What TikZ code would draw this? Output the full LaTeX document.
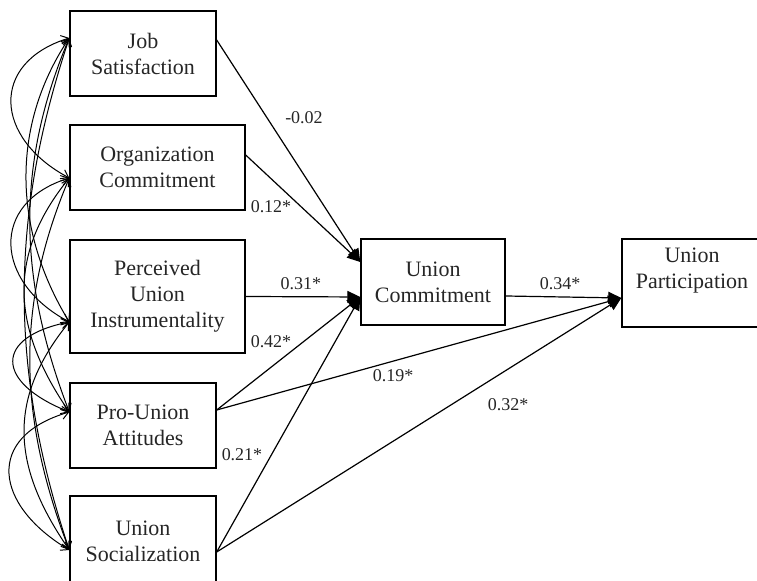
\documentclass[tikz,border=0pt]{standalone}
\usepackage{fontspec}
\setmainfont{Liberation Serif}
\usetikzlibrary{arrows.meta}
\begin{document}
\begin{tikzpicture}[x=0.5pt,y=-0.5pt,
  box/.style={draw, line width=0.7pt, inner sep=0pt, align=center,
    text=black!85, font=\fontsize{11}{13}\selectfont},
  lbl/.style={inner sep=0pt, text=black!85, font=\fontsize{9}{11}\selectfont},
  effarrow/.style={line width=0.6pt, -{Triangle[length=6.5pt,width=6pt]}},
  corr/.style={line width=0.5pt, >={Straight Barb[length=3.5pt,width=5pt]}, <->}]
\clip (0,0) rectangle (757,581);
\fill[white] (0,0) rectangle (757,581);
% boxes
\node[box, minimum width=73pt, minimum height=42.5pt] (JS) at (143,53.5) {Job\\Satisfaction};
\node[box, minimum width=87.5pt, minimum height=42.5pt] (OC) at (157.5,167.5) {Organization\\Commitment};
\node[box, minimum width=87.5pt, minimum height=56.5pt] (PUI) at (157.5,296.5) {Perceived\\Union\\Instrumentality};
\node[box, minimum width=73pt, minimum height=42.5pt] (PUA) at (143,425.5) {Pro-Union\\Attitudes};
\node[box, minimum width=73pt, minimum height=45pt] (US) at (143,541) {Union\\Socialization};
\node[box, minimum width=72pt, minimum height=43pt] (UC) at (433,282) {Union\\Commitment};
\node[box, minimum width=70pt, minimum height=44pt] (UP) at (692,283) {Union\\Participation\\[1.5pt]};
% anchor points
\coordinate (jsR) at ([yshift=6.75pt]JS.east);
\coordinate (ocR) at ([yshift=6.25pt]OC.east);
\coordinate (puaR) at ([yshift=7.75pt]PUA.east);
\coordinate (usR) at ([yshift=-5.5pt]US.east);
\coordinate (ucA) at ([yshift=10pt]UC.west);
\coordinate (ucB) at ([yshift=-7.5pt]UC.west);
\coordinate (ucR) at ([yshift=-7pt]UC.east);
\coordinate (upA) at ([yshift=-7.5pt]UP.west);
\coordinate (jsL) at ([yshift=7.75pt]JS.west);
\coordinate (ocL) at ([yshift=-5.25pt]OC.west);
\coordinate (puiL) at ([yshift=-12.75pt]PUI.west);
\coordinate (puaL) at ([yshift=6.75pt]PUA.west);
\coordinate (usL) at ([yshift=-4.5pt]US.west);
% structural paths
\draw[effarrow] (jsR) -- (ucA);
\draw[effarrow] (ocR) -- (ucA);
\draw[effarrow] (PUI.east) -- (ucB);
\draw[effarrow] (puaR) -- (ucB);
\draw[effarrow] (usR) -- (ucB);
\draw[effarrow] (ucR) -- (upA);
\draw[effarrow] (puaR) -- (upA);
\draw[effarrow] (usR) -- (upA);
% correlations
\draw[corr] (jsL) .. controls +(-80,25) and +(-75,-40) .. (ocL);
\draw[corr] (ocL) .. controls +(-80,25) and +(-75,-40) .. (puiL);
\draw[corr] (puiL) .. controls +(-75,15) and +(-75,-30) .. (puaL);
\draw[corr] (puaL) .. controls +(-85,25) and +(-75,-45) .. (usL);
\draw[corr] (jsL) .. controls +(-60,90) and +(-55,-90) .. (puiL);
\draw[corr] (ocL) .. controls +(-65,80) and +(-55,-80) .. (puaL);
\draw[corr] (puiL) .. controls +(-65,80) and +(-55,-80) .. (usL);
\draw[corr] (jsL) .. controls +(-55,130) and +(-50,-130) .. (puaL);
\draw[corr] (ocL) .. controls +(-55,130) and +(-50,-130) .. (usL);
\draw[corr] (jsL) .. controls +(-60,180) and +(-60,-180) .. (usL);
% coefficients
\node[lbl] (l1) at (304,118) {-0.02};
\node[lbl] (l2) at (271,207) {0.12*};
\node[lbl] (l3) at (301,284) {0.31*};
\node[lbl] (l4) at (271,342) {0.42*};
\node[lbl] (l5) at (393,376) {0.19*};
\node[lbl] (l6) at (242,455) {0.21*};
\node[lbl] (l7) at (560,284) {0.34*};
\node[lbl] (l8) at (508,405) {0.32*};
\end{tikzpicture}
\end{document}
